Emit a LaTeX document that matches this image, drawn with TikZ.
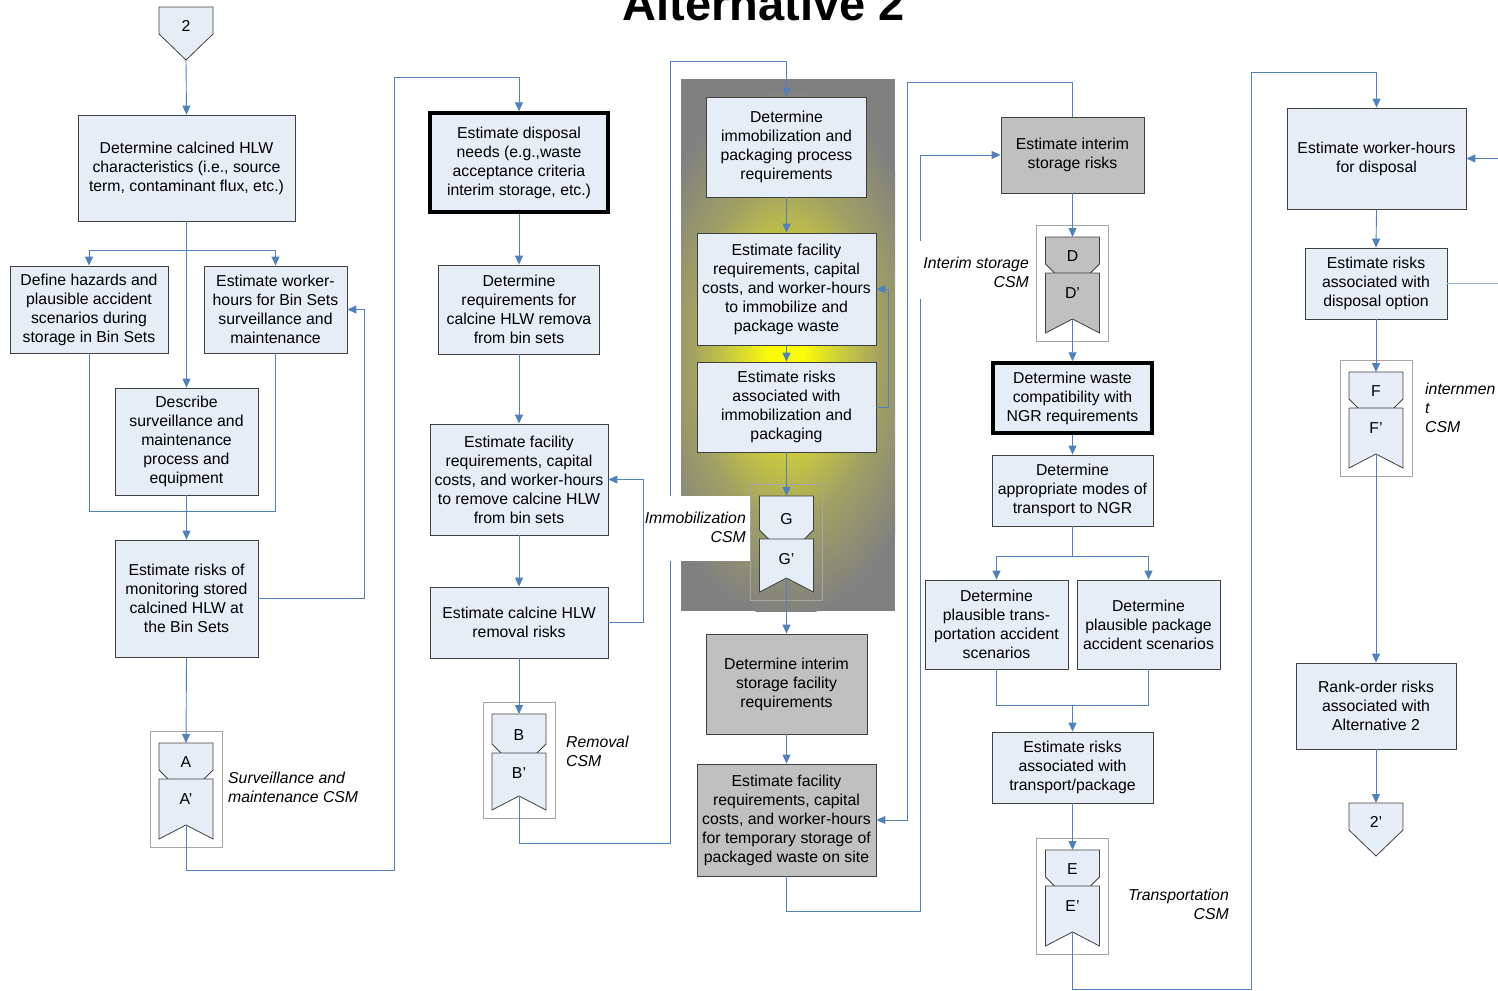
\documentclass[tikz,border=0pt]{standalone}
\usepackage{fontspec}
\setmainfont{Liberation Sans}
\usetikzlibrary{arrows.meta}
\definecolor{boxfill}{RGB}{231,237,247}
\definecolor{boxline}{RGB}{64,64,64}
\definecolor{conn}{RGB}{79,129,189}
\definecolor{connlight}{RGB}{149,179,215}
\definecolor{grayfill}{RGB}{192,192,192}
\definecolor{bggray}{RGB}{128,128,128}
\definecolor{glowyellow}{RGB}{250,250,10}
\definecolor{glowmid}{RGB}{205,205,60}
\definecolor{glowout}{RGB}{160,160,100}
\definecolor{framegray}{RGB}{166,166,166}
\pgfdeclareradialshading{glow}{\pgfpoint{0bp}{0bp}}{color(0bp)=(glowyellow); color(3bp)=(glowyellow); color(9bp)=(glowmid); color(16bp)=(glowout); color(25bp)=(bggray); color(50bp)=(bggray)}
\newcommand\bxfont{\fontsize{15.8}{19}\selectfont}
\newcommand\csmpair[7]{%
 \begin{scope}[shift={(#2,#3)}]
  \draw[csmframe] (-36,-12) rectangle (36,104);
  \draw[csmshape, fill=#6] (-27,0) -- (27,0) -- (27,#7-10) -- (17,#7) -- (-17,#7) -- (-27,#7-10) -- cycle;
  \draw[csmshape, fill=#6] (-27,#7-1) -- (27,#7-1) -- (27,96) -- (0,82) -- (-27,96) -- cycle;
  \node[csmtext] (#1a) at (0,{#7/2+1}) {#4};
  \node[csmtext] (#1b) at (0,{#7+19}) {#5};
  \coordinate (#1top) at (0,0);
  \coordinate (#1bot) at (0,82);
 \end{scope}}
\tikzset{
 box/.style={draw=boxline, fill=boxfill, line width=0.8pt, align=center, inner sep=0pt, font=\bxfont},
 graybox/.style={box, fill=grayfill},
 heavybox/.style={box, draw=black, line width=3.5pt},
 ln/.style={draw=conn, line width=0.9pt},
 arr/.style={ln, -{Triangle[width=8pt,length=9pt]}},
 lbl/.style={font=\bxfont\itshape, inner sep=0pt},
 csmframe/.style={draw=framegray, line width=0.9pt},
 csmshape/.style={draw=boxline, line width=0.8pt},
 csmtext/.style={font=\bxfont, inner sep=0pt}
}
\begin{document}
\begin{tikzpicture}[x=1pt,y=-1pt]
\useasboundingbox (0,0) rectangle (1498,990);
% gray glow region
\fill[bggray] (681,79) rectangle (895,611);
\begin{scope}
 \clip (681,79) rectangle (895,611);
 \shade[shading=glow] (786,352) ellipse (150pt and 265pt);
\end{scope}
% title
\node[font=\fontsize{47}{50}\selectfont\bfseries, anchor=base, inner sep=0pt] (title) at (763.5,21) {Alternative 2};
% start / end
\draw[csmshape, fill=boxfill] (159,7) -- (213,7) -- (213,34) -- (186,60) -- (159,34) -- cycle;
\node[csmtext] (start) at (186,26) {2};
\coordinate (startbot) at (186,60);
\draw[csmshape, fill=boxfill] (1349,803) -- (1403,803) -- (1403,830) -- (1376,856) -- (1349,830) -- cycle;
\node[csmtext] (finish) at (1376,822) {2'};
\coordinate (endtop) at (1376,803);
% column 1
\node[box, minimum width=217, minimum height=106] (box1) at (186.5,168) {Determine calcined HLW\\characteristics (i.e., source\\term, contaminant flux, etc.)};
\node[box, minimum width=158, minimum height=87] (box2) at (89,309.5) {Define hazards and\\plausible accident\\scenarios during\\storage in Bin Sets};
\node[box, minimum width=143, minimum height=87] (box3) at (275.5,309.5) {Estimate worker-\\hours for Bin Sets\\surveillance and\\maintenance};
\node[box, minimum width=143, minimum height=107] (box4) at (186.5,441.5) {Describe\\surveillance and\\maintenance\\process and\\equipment};
\node[box, minimum width=143, minimum height=117] (box5) at (186.5,598.5) {Estimate risks of\\monitoring stored\\calcined HLW at\\the Bin Sets};
% column 2
\node[heavybox, minimum width=178, minimum height=99] (box6) at (519,162.5) {Estimate disposal\\needs (e.g.,waste\\acceptance criteria\\interim storage, etc.)};
\node[box, minimum width=161, minimum height=89] (box7) at (519,309.5) {Determine\\requirements for\\calcine HLW remova\\from bin sets};
\node[box, minimum width=178, minimum height=111] (box8) at (519,479.5) {Estimate facility\\requirements, capital\\costs, and worker-hours\\to remove calcine HLW\\from bin sets};
\node[box, minimum width=178, minimum height=71] (box9) at (519,622.5) {Estimate calcine HLW\\removal risks};
% column 3
\node[box, minimum width=160, minimum height=100] (box10) at (786.5,147) {Determine\\immobilization and\\packaging process\\requirements};
\node[box, minimum width=179, minimum height=112] (box11) at (786.5,289) {Estimate facility\\requirements, capital\\costs, and worker-hours\\to immobilize and\\package waste};
\node[box, minimum width=179, minimum height=90] (box12) at (786.5,407) {Estimate risks\\associated with\\immobilization and\\packaging};
\node[graybox, minimum width=161, minimum height=100] (box13) at (786.5,684) {Determine interim\\storage facility\\requirements};
\node[graybox, minimum width=179, minimum height=112] (box14) at (786.5,820) {Estimate facility\\requirements, capital\\costs, and worker-hours\\for temporary storage of\\packaged waste on site};
% column 4
\node[graybox, minimum width=143, minimum height=76] (box15) at (1072.5,155) {Estimate interim\\storage risks};
\node[heavybox, minimum width=159, minimum height=70] (box16) at (1072.5,398) {Determine waste\\compatibility with\\NGR requirements};
\node[box, minimum width=161, minimum height=71] (box17) at (1072.5,490.5) {Determine\\appropriate modes of\\transport to NGR};
\node[box, minimum width=143, minimum height=89] (box18) at (996.5,624.5) {Determine\\plausible trans-\\portation accident\\scenarios};
\node[box, minimum width=143, minimum height=89] (box19) at (1148.5,624.5) {Determine\\plausible package\\accident scenarios};
\node[box, minimum width=161, minimum height=71] (box20) at (1072.5,767.5) {Estimate risks\\associated with\\transport/package};
% column 5
\node[box, minimum width=179, minimum height=101] (box21) at (1376.5,158.5) {Estimate worker-hours\\for disposal};
\node[box, minimum width=142, minimum height=71] (box22) at (1376,283.5) {Estimate risks\\associated with\\disposal option};
\node[box, minimum width=160, minimum height=86] (box23) at (1376,706) {Rank-order risks\\associated with\\Alternative 2};
% CSM pairs
\csmpair{A}{186}{743}{A}{A'}{boxfill}{37}
\csmpair{B}{519}{714}{B}{B'}{boxfill}{40}
\csmpair{G}{786.5}{496}{G}{G'}{boxfill}{44}
\csmpair{D}{1072.5}{237}{D}{D'}{grayfill}{37}
\csmpair{E}{1072.5}{850}{E}{E'}{boxfill}{37}
\csmpair{F}{1376}{372}{F}{F'}{boxfill}{37}
% connectors column 1
\coordinate (j1) at (186.5,250);
\coordinate (j2) at (186.5,511);
\draw[arr] (startbot) -- (box1.north);
\draw[arr] (box1.south) -- (box4.north);
\draw[arr] (j1) -| (box2.north);
\draw[arr] (j1) -| (box3.north);
\draw[ln] (box2.south) |- (j2);
\draw[ln] (box3.south) |- (j2);
\draw[ln] (box4.south) -- (j2);
\draw[arr] (j2) -- (box5.north);
\draw[arr] (box5.east) -- (364,598.5) |- (box3.east);
\draw[arr] (box5.south) -- (Atop);
\draw[arr] (Abot) -- (186,870) -- (394,870) -- (394,77) -| (box6.north);
% column 2
\draw[arr] (box6.south) -- (box7.north);
\draw[arr] (box7.south) -- (box8.north);
\draw[arr] (box8.south) -- (box9.north);
\draw[arr] (box9.east) -- (643,622.5) |- (box8.east);
\draw[arr] (box9.south) -- (Btop);
\draw[arr] (Bbot) -- (519,843) -- (670,843) -- (670,61) -| (box10.north);
% column 3
\draw[arr] (box10.south) -- (box11.north);
\draw[arr] (box11.south) -- (box12.north);
\draw[arr] (box12.east) -- (888,407) |- (box11.east);
\draw[arr] (box12.south) -- (Gtop);
\draw[arr] (Gbot) -- (box13.north);
\draw[arr] (box13.south) -- (box14.north);
\draw[arr] (box14.south) -- (786.5,911) -- (920,911) |- (box15.west);
\draw[arr] (box15.north) -- (1072.5,82) -- (907,82) |- (box14.east);
% column 4
\coordinate (j3) at (1072.5,556);
\coordinate (j4) at (1072.5,705);
\draw[arr] (box15.south) -- (Dtop);
\draw[arr] (Dbot) -- (box16.north);
\draw[arr] (box16.south) -- (box17.north);
\draw[ln] (box17.south) -- (j3);
\draw[arr] (j3) -| (box18.north);
\draw[arr] (j3) -| (box19.north);
\draw[ln] (box18.south) |- (j4);
\draw[ln] (box19.south) |- (j4);
\draw[arr] (j4) -- (box20.north);
\draw[arr] (box20.south) -- (Etop);
\draw[arr] (Ebot) -- (1072.5,989) -- (1251,989) -- (1251,72) -| (box21.north);
% column 5
\coordinate (edge1) at (1498,158.5);
\coordinate (edge2) at (1498,283.5);
\draw[arr] (edge1) -- (box21.east);
\draw[ln, draw=connlight] (box22.east) -- (edge2);
\draw[arr] (box21.south) -- (box22.north);
\draw[arr] (box22.south) -- (Ftop);
\draw[arr] (Fbot) -- (box23.north);
\draw[arr] (box23.south) -- (endtop);
% labels
\node[lbl, anchor=west, align=left] (lblA) at (228,787) {Surveillance and\\maintenance CSM};
\node[lbl, anchor=west, align=left] (lblB) at (566,751) {Removal\\CSM};
\fill[white] (646,496) rectangle (750,561);
\node[lbl, anchor=east, align=right] (lblG) at (746,527.5) {Immobilization\\CSM};
\fill[white] (912,241) rectangle (1032,299);
\node[lbl, anchor=east, align=right] (lblD) at (1029,272.5) {Interim storage\\CSM};
\node[lbl, anchor=east, align=right] (lblE) at (1229,904) {Transportation\\CSM};
\node[lbl, anchor=west, align=left] (lblF) at (1425,408) {internmen\\t\\CSM};
\end{tikzpicture}
\end{document}
